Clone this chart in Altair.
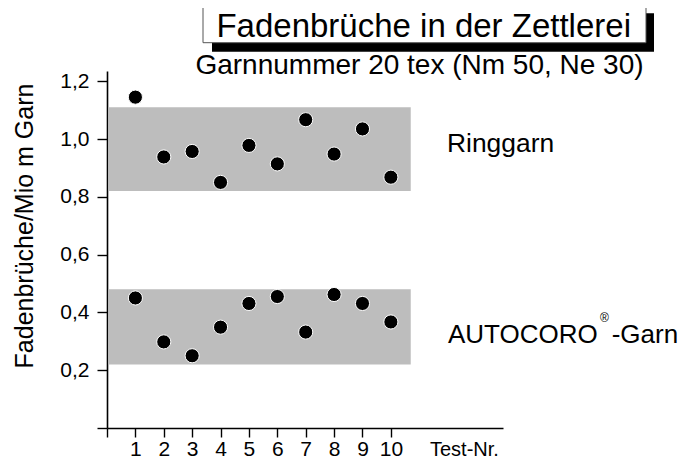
import altair as alt
import pandas as pd

# ---- data ----
tests = [1, 2, 3, 4, 5, 6, 7, 8, 9, 10]
ringgarn = [1.145, 0.938, 0.957, 0.850, 0.978, 0.914, 1.067, 0.948, 1.035, 0.868]
autocoro = [0.450, 0.298, 0.250, 0.349, 0.431, 0.455, 0.332, 0.462, 0.431, 0.367]

band_names = ["Ringgarn", "AUTOCORO-Garn"]
band_low = [0.82, 0.22]
band_high = [1.11, 0.48]
band_x_start = [0.05, 0.05]
band_x_end = [10.7, 10.7]

x_ticks = [0, 1, 2, 3, 4, 5, 6, 7, 8, 9, 10]
y_ticks = [0, 0.2, 0.4, 0.6, 0.8, 1.0, 1.2]

title_text = "Fadenbrüche in der Zettlerei"
subtitle_text = "Garnnummer 20 tex (Nm 50, Ne 30)"
y_title = "Fadenbrüche/Mio m Garn"
x_title = "Test-Nr."

FONT = "Liberation Sans"

points = pd.DataFrame({
    "test": tests * 2,
    "value": ringgarn + autocoro,
    "series": ["Ringgarn"] * len(tests) + ["AUTOCORO-Garn"] * len(tests),
})
bands = pd.DataFrame({
    "name": band_names, "low": band_low, "high": band_high,
    "xs": band_x_start, "xe": band_x_end,
})
one = pd.DataFrame({"a": [0]})

xscale = alt.Scale(domain=[0, 13.95], nice=False, zero=False)
yscale = alt.Scale(domain=[0, 1.2355], nice=False, zero=False)

xaxis = alt.Axis(
    values=x_ticks, title=None, grid=False,
    labelExpr="datum.value == 0 ? '' : format(datum.value, 'd')",
    domainColor="black", domainWidth=1.6, tickColor="black", tickWidth=1.4,
    tickSize=9, labelFont=FONT, labelFontSize=21, labelColor="black",
    labelPadding=1, labelAngle=0, labelFlush=False, labelOverlap=False,
)
yaxis = alt.Axis(
    values=y_ticks, title=None, grid=False,
    labelExpr="datum.value == 0 ? '' : replace(format(datum.value, '.1f'), '.', ',')",
    domainColor="black", domainWidth=1.6, tickColor="black", tickWidth=1.4,
    tickSize=10, labelFont=FONT, labelFontSize=21, labelColor="black",
    labelPadding=8, labelFlush=False, labelOverlap=False,
)

band_layer = alt.Chart(bands).mark_rect(color="#bdbdbd").encode(
    x=alt.X("xs:Q", scale=xscale, axis=xaxis),
    x2="xe:Q",
    y=alt.Y("low:Q", scale=yscale, axis=yaxis),
    y2="high:Q",
)

point_layer = alt.Chart(points).mark_point(
    filled=True, shape="circle", size=200, color="black",
    stroke="white", strokeWidth=1, opacity=1,
).encode(
    x=alt.X("test:Q", scale=xscale, axis=xaxis),
    y=alt.Y("value:Q", scale=yscale, axis=yaxis),
)

def txt(text, x, y, size, align="left", angle=0, baseline="alphabetic"):
    kw = dict(text=text, font=FONT, fontSize=size, color="black",
              align=align, baseline=baseline)
    if angle:
        kw["angle"] = angle
    return alt.Chart(one).mark_text(**kw).encode(x=alt.value(x), y=alt.value(y))

shadow = alt.Chart(one).mark_rect(color="black").encode(
    x=alt.value(105), x2=alt.value(547), y=alt.value(-57.7), y2=alt.value(-19.3)
)
box = alt.Chart(one).mark_rect(fill="white", stroke="#555555", strokeWidth=1).encode(
    x=alt.value(96), x2=alt.value(539), y=alt.value(-67.7), y2=alt.value(-28.3)
)

layers = [
    band_layer,
    point_layer,
    shadow,
    box,
    txt(title_text, 316.7, -34.5, 33, align="center"),
    txt(subtitle_text, 312.5, 3, 28, align="center"),
    txt("Ringgarn", 340, 81.3, 26.4),
    txt("AUTOCORO", 341, 272, 26),
    txt("®", 493, 251, 12),
    txt("-Garn", 504.7, 272, 26),
    txt(y_title, -73.7, 155, 25, align="center", angle=270),
    txt(x_title, 323, 384.5, 20),
]

chart = alt.layer(*layers).properties(
    width=396, height=357,
    autosize=alt.AutoSizeParams(type="none"),
    padding={"left": 99, "top": 63, "right": 179, "bottom": 31},
).configure(background="white").configure_view(stroke=None)

chart.save("out.html", embed_options={"renderer": "svg", "actions": False})
